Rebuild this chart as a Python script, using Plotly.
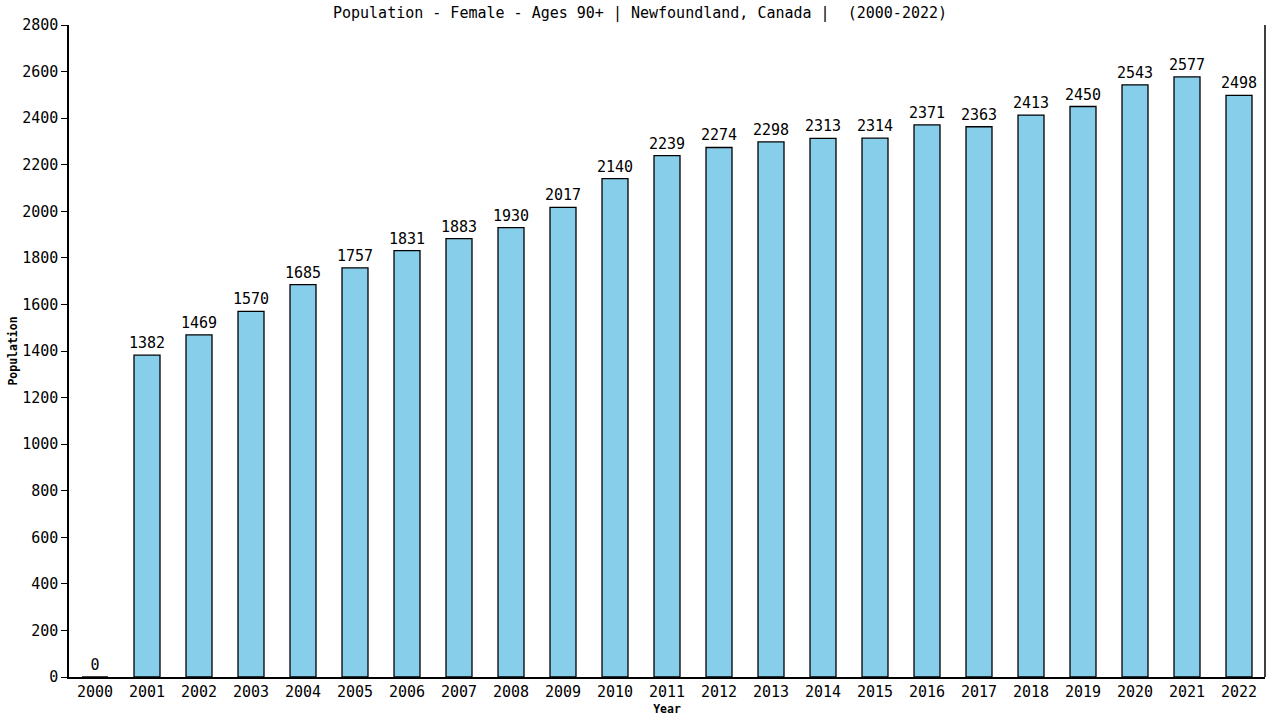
import plotly.graph_objects as go

years = [str(y) for y in range(2000, 2023)]
population = [0, 1382, 1469, 1570, 1685, 1757, 1831, 1883, 1930, 2017, 2140,
              2239, 2274, 2298, 2313, 2314, 2371, 2363, 2413, 2450, 2543, 2577, 2498]
y_ticks = list(range(0, 2801, 200))

mono = "DejaVu Sans Mono"

fig = go.Figure()

fig.add_trace(
    go.Bar(
        x=years,
        y=population,
        marker=dict(color="#87CEEB", line=dict(color="black", width=1.3)),
        text=[str(v) for v in population],
        textposition="outside",
        textfont=dict(family=mono, size=15, color="black"),
        constraintext="none",
        cliponaxis=False,
        width=0.5,
    )
)

fig.update_layout(
    title=dict(
        text="Population - Female - Ages 90+ | Newfoundland, Canada |  (2000-2022)",
        x=0.5, xanchor="center", xref="container",
        y=0.982, yanchor="middle", yref="container",
        font=dict(family=mono, size=15, color="black"),
    ),
    width=1280,
    height=720,
    margin=dict(l=69, r=15, t=25, b=43, autoexpand=False),
    plot_bgcolor="white",
    paper_bgcolor="white",
    showlegend=False,
    font=dict(family=mono, color="black"),
)

fig.update_xaxes(
    title=dict(text="<b>Year</b>", font=dict(family=mono, size=11.5), standoff=5),
    tickfont=dict(family=mono, size=15),
    showline=True, linecolor="black", linewidth=1.5,
    mirror=False, showgrid=False, ticks="", automargin=False,
)

fig.update_yaxes(
    title=dict(text="<b>Population</b>", font=dict(family=mono, size=11.5), standoff=2),
    range=[0, 2800],
    tickvals=y_ticks,
    tickfont=dict(family=mono, size=15),
    showline=True, linecolor="black", linewidth=1.5,
    ticks="outside", ticklen=6, tickcolor="black",
    showgrid=False, zeroline=False, automargin=False,
)

# right border line
fig.add_shape(type="line", xref="paper", yref="paper", x0=1, x1=1, y0=0, y1=1,
              line=dict(color="black", width=1.5))

# drop the default body margin so the 1280x720 figure fills the window
fig.write_html(
    "out.html",
    config={"displayModeBar": False},
    post_script="document.body.style.margin = '0';",
)
